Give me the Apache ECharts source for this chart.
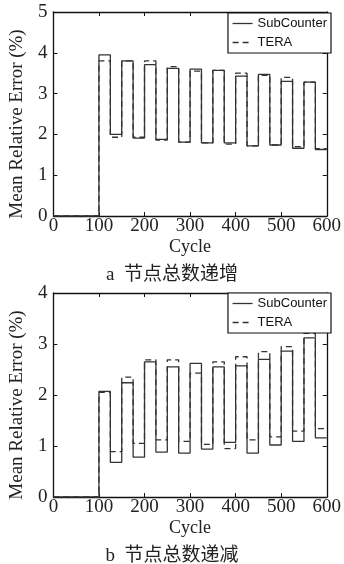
<!DOCTYPE html>
<html>
<head>
<meta charset="utf-8">
<script src="https://cdn.jsdelivr.net/npm/echarts@6/dist/echarts.min.js"></script>
<style>
html,body{margin:0;padding:0;background:#fff;}
#c{width:344px;height:564px;}
</style>
</head>
<body>
<div id="c"></div>
<script>
// Segment start cycles: peaks start at 100,150,...,550; lows at 125,175,...,575
const peakCycles = [100,150,200,250,300,350,400,450,500,550];
const lowCycles  = [125,175,225,275,325,375,425,475,525,575];
const endCycle = 600;

// (a) total nodes increasing
const aSubPeaks = [3.95,3.80,3.71,3.62,3.60,3.57,3.43,3.47,3.30,3.28];
const aSubLows  = [2.00,1.91,1.88,1.81,1.79,1.79,1.72,1.74,1.66,1.63];
const aTeraPeaks = [3.80,3.80,3.80,3.66,3.55,3.57,3.50,3.45,3.40,3.28];
const aTeraLows  = [1.93,1.93,1.86,1.81,1.79,1.76,1.72,1.74,1.70,1.65];

// (b) total nodes decreasing
const bSubPeaks = [2.07,2.24,2.65,2.55,2.62,2.55,2.57,2.70,2.86,3.12];
const bSubLows  = [0.68,0.78,0.88,0.86,0.94,1.07,0.86,1.02,1.09,1.16];
const bTeraPeaks = [2.05,2.35,2.69,2.69,2.43,2.65,2.75,2.85,2.95,3.21];
const bTeraLows  = [0.89,1.05,1.12,1.09,1.03,0.95,1.12,1.18,1.29,1.34];

const seriesNames = ['SubCounter','TERA'];
const captionA = 'a  节点总数递增';
const captionB = 'b  节点总数递减';
const xName = 'Cycle';
const yName = 'Mean Relative Error (%)';

function buildSteps(peaks, lows){
  const d = [[0,0]];
  for (let i=0;i<peaks.length;i++){
    d.push([peakCycles[i], peaks[i]]);
    d.push([lowCycles[i], lows[i]]);
  }
  d.push([endCycle, lows[lows.length-1]]);
  return d;
}

const serif = "'Liberation Serif','Times New Roman',serif";
const lineColor = '#333';

function xAx(grid, pos){
  const bottom = pos==='bottom';
  return {
    type:'value', gridIndex:grid, position:pos, min:0, max:600, interval:100,
    axisLine:{show:true, onZero:false, lineStyle:{color:'#111', width:1.3}},
    axisTick:{show:true, inside:true, length:4, lineStyle:{color:'#111', width:1}},
    axisLabel:{show:bottom, fontFamily:serif, fontSize:19, color:'#222', margin:1},
    splitLine:{show:false},
    name: bottom ? xName : '',
    nameLocation:'middle', nameGap:22,
    nameTextStyle:{fontFamily:serif, fontSize:18, color:'#222'}
  };
}
function yAx(grid, pos, max){
  const left = pos==='left';
  return {
    type:'value', gridIndex:grid, position:pos, min:0, max:max, interval:1,
    axisLine:{show:true, onZero:false, lineStyle:{color:'#111', width:1.3}},
    axisTick:{show:true, inside:true, length:4, lineStyle:{color:'#111', width:1}},
    axisLabel:{show:left, fontFamily:serif, fontSize:19, color:'#222', margin:6},
    splitLine:{show:false},
    name: left ? yName : '',
    nameLocation:'middle', nameGap:21,
    nameTextStyle:{fontFamily:serif, fontSize:19, color:'#222', padding:[0,20,0,0]}
  };
}
function mkSeries(name, data, xi, yi, dashed){
  return {
    name:name, type:'line', step:'end', data:data,
    xAxisIndex:xi, yAxisIndex:yi, symbol:'none', showSymbol:false,
    lineStyle:{color:lineColor, width:1.3, type: dashed ? [6,4] : 'solid'},
    itemStyle:{color:lineColor},
    z: dashed ? 3 : 2
  };
}
function legendAt(top){
  return {
    data:seriesNames, orient:'vertical', right:13, top:top,
    backgroundColor:'#fff', borderColor:'#111', borderWidth:1.2,
    padding:[4,4,4,4], itemGap:6, itemWidth:20, itemHeight:10,
    itemStyle:{color:'rgba(0,0,0,0)', borderWidth:0, opacity:0},
    lineStyle:{color:lineColor, width:1.3},
    textStyle:{fontFamily:"'Liberation Sans',Arial,sans-serif", fontSize:13, color:'#111'}
  };
}

const chart = echarts.init(document.getElementById('c'), null, {renderer:'canvas'});
chart.setOption({
  animation:false,
  backgroundColor:'#fff',
  title:[
    {text:captionA, left:'center', top:261, textStyle:{fontFamily:"'Liberation Serif','Noto Sans CJK SC',serif", fontSize:19, fontWeight:'normal', color:'#222'}},
    {text:captionB, left:'center', top:542, textStyle:{fontFamily:"'Liberation Serif','Noto Sans CJK SC',serif", fontSize:19, fontWeight:'normal', color:'#222'}}
  ],
  legend:[legendAt(13), legendAt(293)],
  grid:[
    {left:48, top:12, width:283, height:204},
    {left:48, top:293, width:283, height:204}
  ],
  xAxis:[xAx(0,'bottom'), xAx(0,'top'), xAx(1,'bottom'), xAx(1,'top')],
  yAxis:[yAx(0,'left',5), yAx(0,'right',5), yAx(1,'left',4), yAx(1,'right',4)],
  series:[
    mkSeries(seriesNames[0], buildSteps(aSubPeaks,aSubLows), 0, 0, false),
    mkSeries(seriesNames[1], buildSteps(aTeraPeaks,aTeraLows), 0, 0, true),
    mkSeries(seriesNames[0], buildSteps(bSubPeaks,bSubLows), 2, 2, false),
    mkSeries(seriesNames[1], buildSteps(bTeraPeaks,bTeraLows), 2, 2, true)
  ]
});
</script>
</body>
</html>
